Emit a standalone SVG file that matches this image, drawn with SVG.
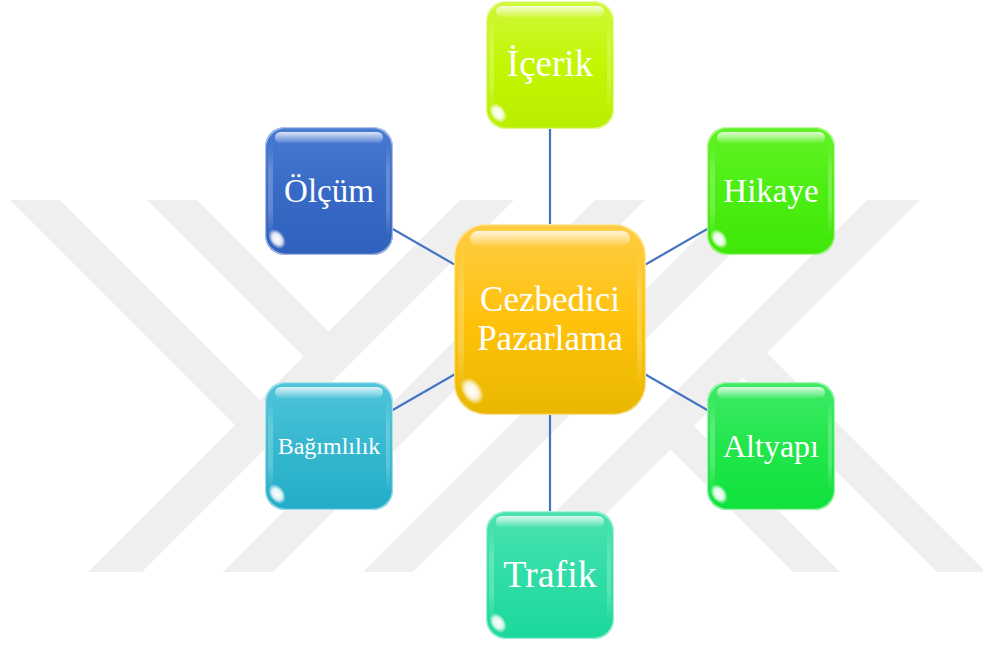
<svg xmlns="http://www.w3.org/2000/svg" xmlns:xlink="http://www.w3.org/1999/xlink" width="983" height="648" viewBox="0 0 983 648">
  <defs>
    <style>
      .mark { fill: #efefef; }
      .link { stroke: #4472c4; stroke-width: 2.2; fill: none; }
      .lbl { fill: #ffffff; font-family: "Liberation Serif", "Times New Roman", serif; text-anchor: middle; }
      .rim { fill: none; stroke: #ffffff; stroke-opacity: 0.55; stroke-width: 1.2; }
    </style>
    <clipPath id="markClip">
      <rect x="0" y="200" width="983" height="372"/>
    </clipPath>

    <!-- body fills -->
    <linearGradient id="gCenter" x1="0" y1="0" x2="0" y2="1">
      <stop offset="0" stop-color="#ffcd45"/>
      <stop offset="0.5" stop-color="#ffc20c"/>
      <stop offset="1" stop-color="#e9b700"/>
    </linearGradient>
    <linearGradient id="gIcerik" x1="0" y1="0" x2="0" y2="1">
      <stop offset="0" stop-color="#cff83a"/>
      <stop offset="0.5" stop-color="#c2f602"/>
      <stop offset="1" stop-color="#b8ef00"/>
    </linearGradient>
    <linearGradient id="gOlcum" x1="0" y1="0" x2="0" y2="1">
      <stop offset="0" stop-color="#4a7bd2"/>
      <stop offset="0.5" stop-color="#3869c6"/>
      <stop offset="1" stop-color="#2f61bd"/>
    </linearGradient>
    <linearGradient id="gHikaye" x1="0" y1="0" x2="0" y2="1">
      <stop offset="0" stop-color="#62f226"/>
      <stop offset="0.5" stop-color="#4cee12"/>
      <stop offset="1" stop-color="#3fe708"/>
    </linearGradient>
    <linearGradient id="gBagimlilik" x1="0" y1="0" x2="0" y2="1">
      <stop offset="0" stop-color="#50c4da"/>
      <stop offset="0.5" stop-color="#36b8d0"/>
      <stop offset="1" stop-color="#22adc8"/>
    </linearGradient>
    <linearGradient id="gAltyapi" x1="0" y1="0" x2="0" y2="1">
      <stop offset="0" stop-color="#40ea66"/>
      <stop offset="0.5" stop-color="#22e64c"/>
      <stop offset="1" stop-color="#0fe13c"/>
    </linearGradient>
    <linearGradient id="gTrafik" x1="0" y1="0" x2="0" y2="1">
      <stop offset="0" stop-color="#4ae2b0"/>
      <stop offset="0.5" stop-color="#30dda6"/>
      <stop offset="1" stop-color="#1bd89b"/>
    </linearGradient>

    <!-- gloss pieces -->
    <linearGradient id="shine" x1="0" y1="0" x2="0" y2="1">
      <stop offset="0" stop-color="#ffffff" stop-opacity="0.8"/>
      <stop offset="1" stop-color="#ffffff" stop-opacity="0.08"/>
    </linearGradient>
    <linearGradient id="sideShine" x1="0" y1="0" x2="0" y2="1">
      <stop offset="0" stop-color="#ffffff" stop-opacity="0"/>
      <stop offset="0.3" stop-color="#ffffff" stop-opacity="0.22"/>
      <stop offset="0.7" stop-color="#ffffff" stop-opacity="0.22"/>
      <stop offset="1" stop-color="#ffffff" stop-opacity="0"/>
    </linearGradient>
    <radialGradient id="glare" cx="0.5" cy="0.5" r="0.5">
      <stop offset="0" stop-color="#ffffff" stop-opacity="1"/>
      <stop offset="0.55" stop-color="#ffffff" stop-opacity="0.85"/>
      <stop offset="1" stop-color="#ffffff" stop-opacity="0"/>
    </radialGradient>

    <!-- gloss overlay for a 128 x 128 box -->
    <g id="gloss">
      <rect x="10" y="5" width="108" height="11" rx="5.5" fill="url(#shine)"/>
      <rect x="3" y="18" width="5" height="92" rx="2.5" fill="url(#sideShine)"/>
      <rect x="121" y="18" width="4" height="92" rx="2" fill="url(#sideShine)"/>
      <ellipse cx="12" cy="112" rx="7.5" ry="11" transform="rotate(-35 12 112)" fill="url(#glare)"/>
      <rect x="0.6" y="0.6" width="126.8" height="126.8" rx="20" class="rim"/>
    </g>

    <!-- gloss overlay for the 192 x 191 hub -->
    <g id="glossHub">
      <rect x="16" y="7" width="160" height="15" rx="7.5" fill="url(#shine)"/>
      <rect x="4" y="28" width="6" height="136" rx="3" fill="url(#sideShine)"/>
      <rect x="183" y="28" width="5" height="136" rx="2.5" fill="url(#sideShine)"/>
      <ellipse cx="18" cy="167" rx="10" ry="15" transform="rotate(-35 18 167)" fill="url(#glare)"/>
      <rect x="0.6" y="0.6" width="190.8" height="189.8" rx="32" class="rim"/>
    </g>
  </defs>

  <rect width="983" height="648" fill="#ffffff"/>

  <!-- background stripe mark -->
  <g id="background-mark" clip-path="url(#markClip)">
    <polygon class="mark" points="470,190 524,190 132,582 78,582"/>
    <polygon class="mark" points="605,190 655,190 263,582 213,582"/>
    <polygon class="mark" points="745,190 795,190 403,582 353,582"/>
    <polygon class="mark" points="877,190 930,190 538,582 485,582"/>
    <polygon class="mark" points="0,190 50,190 273.5,413.5 248.5,438.5"/>
    <polygon class="mark" points="137,190 187,190 342,345 317,370"/>
    <polygon class="mark" points="680.5,412.5 657,436 803,582 850,582"/>
    <polygon class="mark" points="753.5,339.5 729,364 947,582 996,582"/>
  </g>

  <!-- connectors, hub centre to each satellite centre -->
  <g id="connectors">
    <line class="link" x1="550" y1="319.5" x2="550" y2="64.5"/>
    <line class="link" x1="550" y1="319.5" x2="328.5" y2="192"/>
    <line class="link" x1="550" y1="319.5" x2="771.5" y2="192"/>
    <line class="link" x1="550" y1="319.5" x2="328.5" y2="447"/>
    <line class="link" x1="550" y1="319.5" x2="771.5" y2="447"/>
    <line class="link" x1="550" y1="319.5" x2="550" y2="575.5"/>
  </g>

  <g id="node-icerik" transform="translate(486,1)">
    <rect width="128" height="128" rx="20" fill="url(#gIcerik)"/>
    <use href="#gloss"/>
    <text class="lbl" x="64" y="75" font-size="37">İçerik</text>
  </g>

  <g id="node-olcum" transform="translate(265,127)">
    <rect width="128" height="128" rx="20" fill="url(#gOlcum)"/>
    <use href="#gloss"/>
    <text class="lbl" x="64" y="75" font-size="33">Ölçüm</text>
  </g>

  <g id="node-hikaye" transform="translate(707,127)">
    <rect width="128" height="128" rx="20" fill="url(#gHikaye)"/>
    <use href="#gloss"/>
    <text class="lbl" x="64" y="75" font-size="33">Hikaye</text>
  </g>

  <g id="node-bagimlilik" transform="translate(265,382)">
    <rect width="128" height="128" rx="20" fill="url(#gBagimlilik)"/>
    <use href="#gloss"/>
    <text class="lbl" x="64" y="72" font-size="24">Bağımlılık</text>
  </g>

  <g id="node-altyapi" transform="translate(707,382)">
    <rect width="128" height="128" rx="20" fill="url(#gAltyapi)"/>
    <use href="#gloss"/>
    <text class="lbl" x="64" y="75" font-size="32">Altyapı</text>
  </g>

  <g id="node-trafik" transform="translate(486,511)">
    <rect width="128" height="128" rx="20" fill="url(#gTrafik)"/>
    <use href="#gloss"/>
    <text class="lbl" x="64" y="76" font-size="38">Trafik</text>
  </g>

  <g id="node-cezbedici-pazarlama" transform="translate(454,224)">
    <rect width="192" height="191" rx="32" fill="url(#gCenter)"/>
    <use href="#glossHub"/>
    <text class="lbl" x="96" y="87" font-size="35">Cezbedici</text>
    <text class="lbl" x="96" y="126" font-size="35">Pazarlama</text>
  </g>
</svg>
